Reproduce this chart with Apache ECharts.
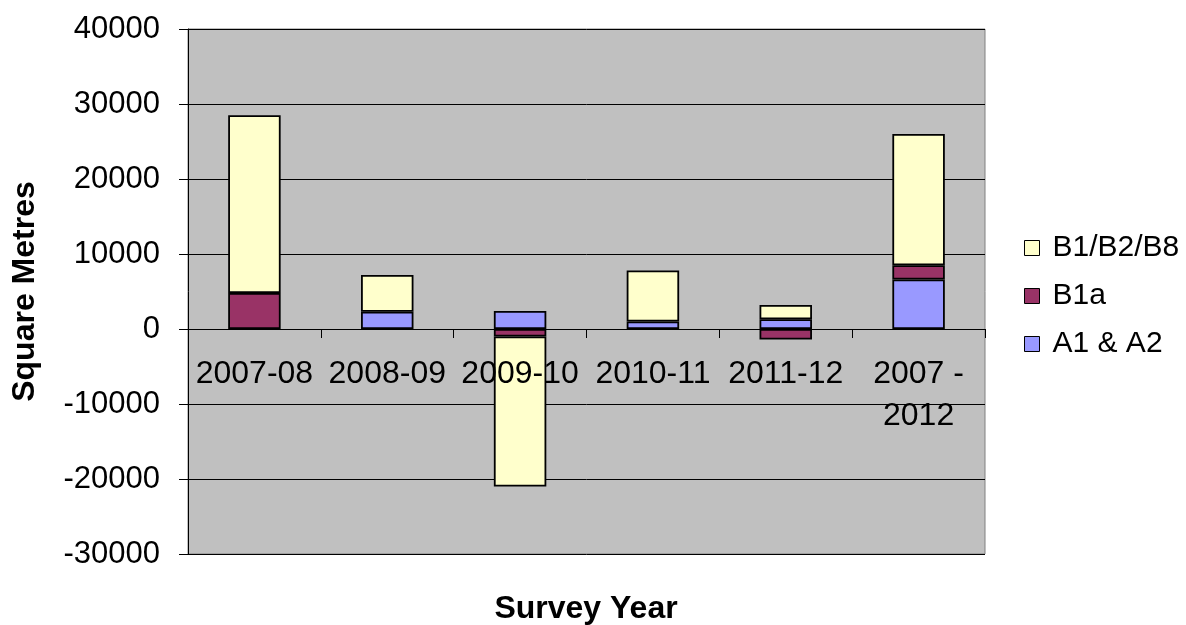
<!DOCTYPE html>
<html>
<head>
<meta charset="utf-8">
<style>
  html, body { margin: 0; padding: 0; background: #ffffff; }
  #chart { width: 1186px; height: 625px; }
</style>
<script src="https://cdn.jsdelivr.net/npm/echarts@6/dist/echarts.min.js"></script>
</head>
<body>
<div id="chart"></div>
<script>
// Survey years along the category axis
const categories = ['2007-08', '2008-09', '2009-10', '2010-11', '2011-12', '2007 -\n2012'];

// Floorspace change per use class (square metres)
const a1a2 = [0, 2300, 2400, 1000, 1300, 6600];
const b1a = [4800, 0, -1000, 0, -1400, 1900];
const b1b2b8 = [23700, 4900, -20000, 6800, 1900, 17500];

// Value axis range
const yMin = -30000;
const yMax = 40000;
const yStep = 10000;

const FONT = '"Liberation Sans", Arial, sans-serif';

// A zero entry contributes no visible segment to its stack
const segments = (values) => values.map((v) => (v === 0 ? null : v));

const barStyle = (color) => ({
  color: color,
  borderColor: '#000000',
  borderWidth: 1.8
});

const chart = echarts.init(document.getElementById('chart'), null, { renderer: 'canvas' });

chart.setOption({
  animation: false,
  backgroundColor: '#ffffff',
  textStyle: { fontFamily: FONT },
  graphic: [{
    type: 'text',
    x: 586,
    y: 609,
    style: {
      text: 'Survey Year',
      align: 'center',
      verticalAlign: 'middle',
      fontFamily: FONT,
      fontSize: 32,
      fontWeight: 'bold',
      fill: '#000000'
    }
  }],
  grid: {
    left: 188,
    right: 201,
    top: 29,
    bottom: 71,
    containLabel: false,
    outerBoundsMode: 'none',
    show: true,
    backgroundColor: '#c0c0c0',
    borderColor: '#808080',
    borderWidth: 1
  },
  legend: {
    orient: 'vertical',
    left: 1019,
    top: 228,
    itemWidth: 15,
    itemHeight: 15,
    itemGap: 18,
    icon: 'rect',
    data: ['B1/B2/B8', 'B1a', 'A1 & A2'],
    itemStyle: { borderColor: '#000000', borderWidth: 1 },
    textStyle: { fontFamily: FONT, fontSize: 30, color: '#000000', lineHeight: 30, padding: [0, 0, 0, 8] }
  },
  xAxis: {
    type: 'category',
    data: categories,
    z: 10,
    axisLine: { onZero: true, lineStyle: { color: '#000000', width: 1 } },
    axisTick: { show: true, length: 9, lineStyle: { color: '#000000' } },
    axisLabel: {
      interval: 0,
      // labels sit just under the zero line, inside the plot
      margin: -201,
      fontFamily: FONT,
      fontSize: 32,
      lineHeight: 42,
      color: '#000000'
    },
    splitLine: { show: false }
  },
  yAxis: {
    type: 'value',
    min: yMin,
    max: yMax,
    interval: yStep,
    name: 'Square Metres',
    nameLocation: 'middle',
    nameGap: 147,
    nameRotate: 90,
    nameMoveOverlap: false,
    nameTextStyle: { fontFamily: FONT, fontSize: 32, fontWeight: 'bold', color: '#000000' },
    axisLine: { show: true, lineStyle: { color: '#000000', width: 1 } },
    axisTick: { show: true, length: 9, lineStyle: { color: '#000000' } },
    axisLabel: {
      margin: 28,
      fontFamily: FONT,
      fontSize: 31,
      color: '#000000',
      formatter: (v) => String(v)
    },
    splitLine: { show: true, lineStyle: { color: '#000000', width: 1 } }
  },
  series: [
    { name: 'A1 & A2', type: 'bar', stack: 'use', data: segments(a1a2), barWidth: '39.5%', itemStyle: barStyle('#9999ff') },
    { name: 'B1a', type: 'bar', stack: 'use', data: segments(b1a), barWidth: '39.5%', itemStyle: barStyle('#993366') },
    { name: 'B1/B2/B8', type: 'bar', stack: 'use', data: segments(b1b2b8), barWidth: '39.5%', itemStyle: barStyle('#ffffcc') }
  ]
});
</script>
</body>
</html>
